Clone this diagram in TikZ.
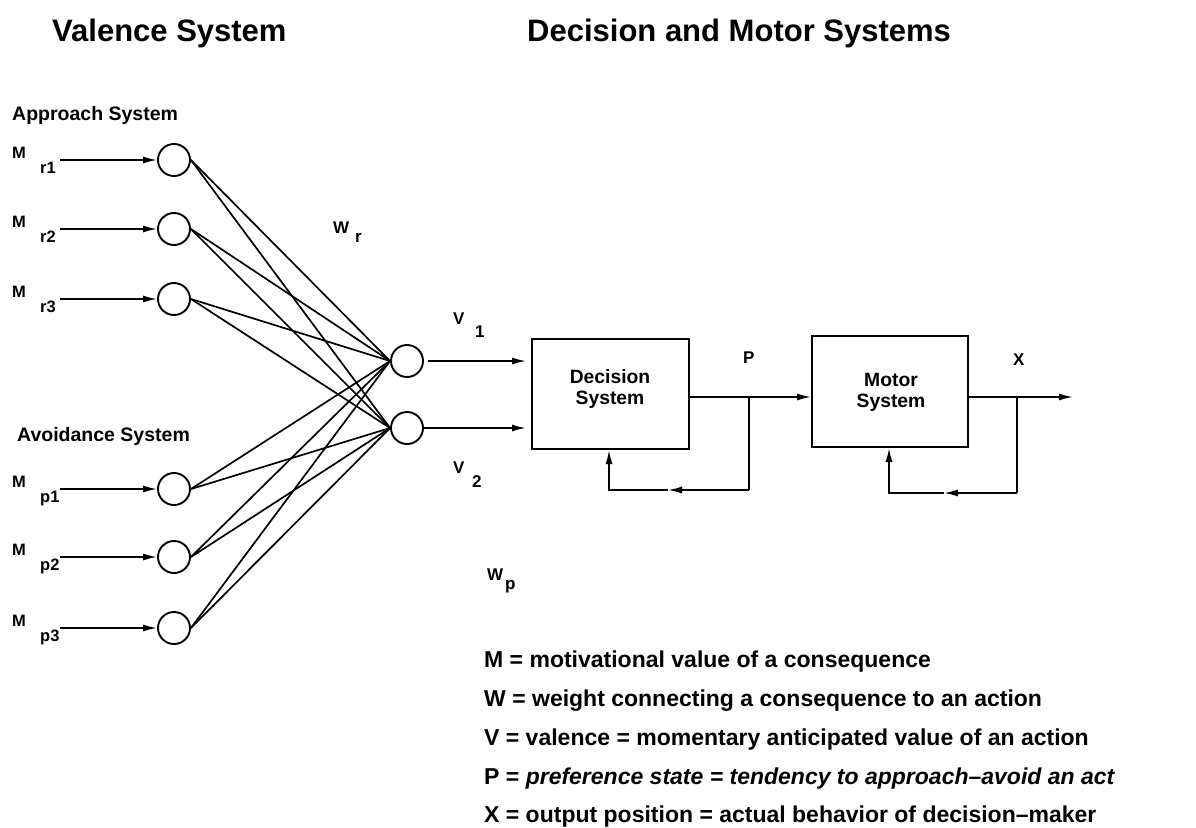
\documentclass[tikz,border=0pt]{standalone}
\usepackage{fontspec}
\setmainfont{Liberation Sans}
\usetikzlibrary{arrows.meta}
\begin{document}
\begin{tikzpicture}[x=1pt,y=-1pt,
  every node/.style={inner sep=0pt},
  title/.style={font=\fontsize{31}{37}\selectfont\bfseries,anchor=base west},
  grp/.style={font=\fontsize{19.5}{23}\selectfont\bfseries,anchor=base west},
  mlbl/.style={font=\fontsize{16.5}{19}\selectfont\bfseries,anchor=base west},
  vlbl/.style={font=\fontsize{17}{20}\selectfont\bfseries,anchor=base west},
  boxtxt/.style={font=\fontsize{19.3}{21}\selectfont\bfseries,align=center},
  legend/.style={font=\fontsize{23}{28}\selectfont\bfseries,anchor=base west},
  unit/.style={circle,draw,line width=1.9pt,minimum size=32pt},
  sysbox/.style={draw,line width=2pt},
  wire/.style={line width=1.7pt},
  arr/.style={-{Latex[length=14pt,width=7pt]}}
]
\useasboundingbox (0,0) rectangle (1196,827);

% titles
\node[title] (t1) at (52,41) {Valence System};
\node[title] (t2) at (527,41) {Decision and Motor Systems};
\node[grp] (app) at (12,120) {Approach System};
\node[grp] (avo) at (17,441) {Avoidance System};

% valence units
\node[unit] (v1) at (407,361) {};
\node[unit] (v2) at (407,428) {};

% input units
\foreach \n/\yy in {r1/160, r2/229, r3/299, p1/489, p2/557, p3/628} {
  \node[unit] (\n) at (174,\yy) {};
  \coordinate (s\n) at (60,\yy);
  \draw[wire,arr] (s\n) -- (\n);
  \node[mlbl] (m\n) at (12,{\yy-2}) {M};
  \node[mlbl] (ms\n) at (40,{\yy+13}) {\n};
  \draw[wire] (\n.east) -- (v1.west);
  \draw[wire] (\n.east) -- (v2.west);
}

% weight labels
\node[vlbl] (wr) at (333,233) {W};
\node[vlbl] (wrs) at (355,242) {r};
\node[vlbl] (wp) at (487,580) {W};
\node[vlbl] (wps) at (505,589) {p};

% valence labels
\node[vlbl] (lv1) at (453,324) {V};
\node[vlbl] (lv1s) at (475,337) {1};
\node[vlbl] (lv2) at (453,473) {V};
\node[vlbl] (lv2s) at (472,487) {2};

% decision system
\node[sysbox,minimum width=157pt,minimum height=110pt] (dec) at (610.5,394) {};
\node[boxtxt] (dect) at (610,389) {Decision\\System};
\draw[wire,arr,shorten <=4pt,shorten >=5pt] (v1.east) -- (v1.east -| dec.west);
\draw[wire,arr,shorten >=5pt] (v2.east) -- (v2.east -| dec.west);

% motor system
\node[sysbox,minimum width=156pt,minimum height=111pt] (mot) at (890,391.5) {};
\node[boxtxt] (mott) at (891,392) {Motor\\System};

% P output and feedback
\coordinate (pj) at (749,397);
\coordinate (pd) at (749,490);
\coordinate (pm) at (668,490);
\coordinate (pl) at (609,490);
\draw[wire,arr] (dec.east |- pj) -- (mot.west |- pj);
\draw[wire] (pj) -- (pd);
\draw[wire,arr] (pd) -- (pm);
\draw[wire,arr] (pm) -- (pl) -- (pl |- dec.south);
\node[vlbl] (lp) at (743,363) {P};

% X output and feedback
\coordinate (xj) at (1017,397);
\coordinate (xe) at (1073,397);
\coordinate (xd) at (1017,493);
\coordinate (xm) at (944,493);
\coordinate (xl) at (889,493);
\draw[wire,arr] (mot.east |- xj) -- (xe);
\draw[wire] (xj) -- (xd);
\draw[wire,arr] (xd) -- (xm);
\draw[wire,arr] (xm) -- (xl) -- (xl |- mot.south);
\node[vlbl] (lx) at (1013,365) {X};

% legend
\node[legend] (l1) at (484,667) {M = motivational value of a consequence};
\node[legend] (l2) at (484,706) {W = weight connecting a consequence to an action};
\node[legend] (l3) at (484,745) {V = valence = momentary anticipated value of an action};
\node[legend] (l4) at (484,784) {P = \itshape preference state = tendency to approach–avoid an act};
\node[legend] (l5) at (484,822) {X = output position = actual behavior of decision–maker};
\end{tikzpicture}
\end{document}
